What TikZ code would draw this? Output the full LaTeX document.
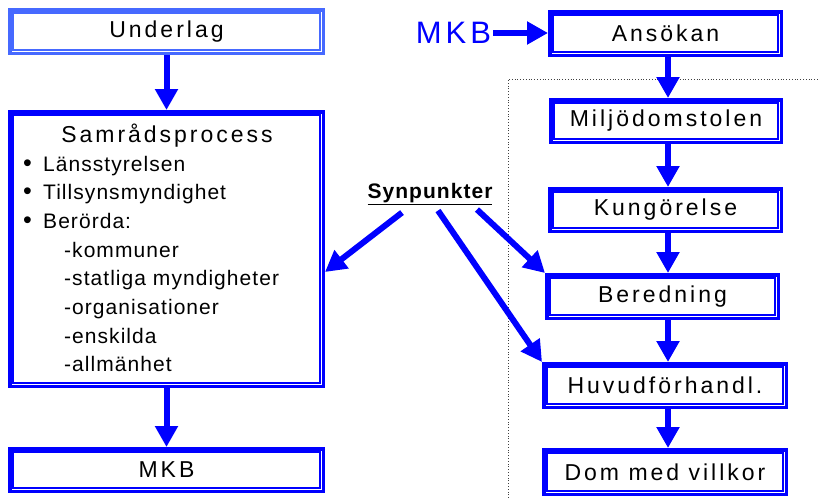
\documentclass[tikz,border=0pt]{standalone}
\usepackage{fontspec}
\setmainfont{Liberation Sans}
\newfontfamily\boxfont[LetterSpace=13]{Liberation Sans}
\newfontfamily\listfont[LetterSpace=5]{Liberation Sans}
\usepackage{tikz}
\usetikzlibrary{arrows.meta}
\definecolor{paleblue}{RGB}{70,105,255}
\tikzset{
    box/.style={draw=blue, line width=3.5pt, fill=white, inner sep=0pt, text=black,
        font=\boxfont\fontsize{23}{23}\selectfont}, % boxes with double border
    flow/.style={draw=blue, line width=6pt, -{Triangle[length=21pt, width=22pt]}}, % thick blue arrows
    item/.style={anchor=base west, inner sep=0pt, font=\listfont\fontsize{21}{21}\selectfont}
}
\begin{document}
\begin{tikzpicture}[x=1pt, y=-1pt]
    \useasboundingbox (0,0) rectangle (820,498);

    \draw[dotted, line width=0.8pt, black!75] (508,498) |- (820,79);

    % left column
    \node[box, draw=paleblue, minimum width=313.5pt, minimum height=43.5pt] (under) at (166.5,31.5) {Underlag};
    \node[box, minimum width=313.5pt, minimum height=274.5pt] (samrad) at (166.5,249) {};
    \node[box, minimum width=313.5pt, minimum height=42.5pt] (mkbl) at (166.5,470) {MKB};

    \node[anchor=base, inner sep=0pt, font=\boxfont\fontsize{23}{23}\selectfont] (title) at (167,142) {Samrådsprocess};
    \foreach \t [count=\i from 0] in {Länsstyrelsen, Tillsynsmyndighet, Berörda:} {\node[item] (b\i) at (23,{171+28.7*\i}) {\makebox[20pt][l]{\fontsize{25}{21}\selectfont•}\t};}
    \foreach \t [count=\i from 3] in {kommuner, statliga myndigheter, organisationer, enskilda, allmänhet} {\node[item] (d\i) at (64,{171+28.7*\i}) {-\t};}

    % right column
    \coordinate (col) at (668,0);
    \node[inner sep=2pt, text=blue, font=\boxfont\fontsize{31}{31}\selectfont] (mkbin) at (453.5,33) {MKB};
    \node[box, minimum width=231.5pt, minimum height=43.5pt] (ansok) at (665.5,33.5) {Ansökan};
    \node[box, minimum width=230.5pt, minimum height=42.5pt] (miljo) at (666,121) {Miljödomstolen};
    \node[box, minimum width=231.5pt, minimum height=42.5pt] (kung) at (665.5,210) {Kungörelse};
    \node[box, minimum width=231.5pt, minimum height=43.5pt] (bered) at (662.5,296.5) {Beredning};
    \node[box, minimum width=242.5pt, minimum height=43.5pt] (huvud) at (665,385.5) {Huvudförhandl.};
    \node[box, minimum width=242.5pt, minimum height=44.5pt] (dom) at (665,472) {Dom med villkor};

    \foreach \n/\c in {under/paleblue, samrad/blue, mkbl/blue, ansok/blue, miljo/blue, kung/blue, bered/blue, huvud/blue, dom/blue}
        {\draw[\c, line width=1.3pt] ([shift={(5pt,-5pt)}]\n.north west) rectangle ([shift={(-5pt,5pt)}]\n.south east);}

    \node[anchor=base, inner sep=0pt, font=\listfont\bfseries\fontsize{21}{21}\selectfont] (syn) at (430,198) {\underline{Synpunkter}};

    % arrows
    \draw[flow] (under.south -| samrad.north) -- (samrad.north);
    \draw[flow] (samrad.south) -- (mkbl.north);
    \draw[flow] (mkbin.east) -- (mkbin.east -| ansok.west);
    \foreach \a/\b in {ansok/miljo, miljo/kung, kung/bered, bered/huvud, huvud/dom}
        {\draw[flow] (col |- \a.south) -- (col |- \b.north);}
    \draw[flow] ([xshift=-28pt, yshift=-8pt]syn.south) -- ([yshift=-23pt]samrad.east);
    \draw[flow] ([xshift=8pt, yshift=-6pt]syn.south) -- (huvud.north west);
    \draw[flow] ([xshift=47pt, yshift=-5pt]syn.south) -- (bered.north west);
\end{tikzpicture}
\end{document}
